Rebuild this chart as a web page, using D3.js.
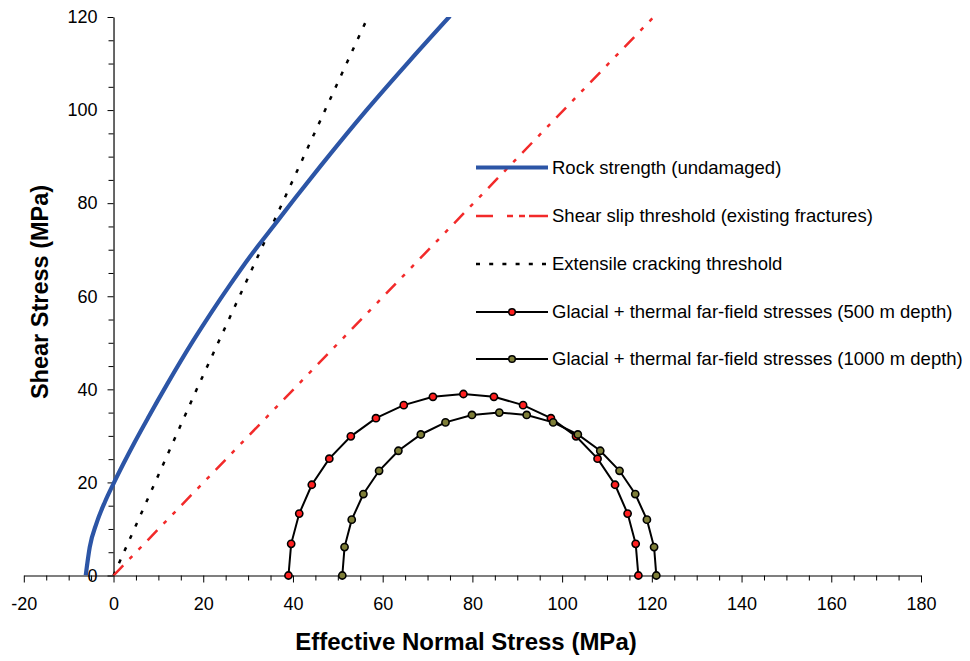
<!DOCTYPE html>
<html>
<head>
<meta charset="utf-8">
<script src="https://cdn.jsdelivr.net/npm/d3@7"></script>
<style>
  body { margin: 0; background: #fff; }
  svg { display: block; font-family: "Liberation Sans", Arial, Helvetica, sans-serif; }
</style>
</head>
<body>
<svg id="chart" width="970" height="661"></svg>
<script>
// Axis ticks
const xMajorTicks = [-20, 0, 20, 40, 60, 80, 100, 120, 140, 160, 180];
const yMajorTicks = [0, 20, 40, 60, 80, 100, 120];
const minorStep = 5;

// Rock strength envelope (undamaged rock), MPa
const rockSigma = [-6.2, -5.3, -3.8, -1.9, 0, 2.2, 4.8, 7.8, 11.9, 17.8, 21.9, 26.0, 30.4, 35.6, 40.5, 46.0, 56.4, 66.1, 75.0];
const rockTau   = [0, 6.1, 11.2, 15.85, 19.75, 24.0, 28.8, 34.05, 41.0, 50.5, 56.65, 62.5, 68.5, 75.0, 81.1, 87.8, 100.0, 110.7, 120.2];

// Shear slip threshold on existing fractures
const slipSigma = [0, 121.0];
const slipTau   = [0, 120.6];

// Extensile cracking threshold
const crackSigma = [0, 18.5, 37.1, 56.9];
const crackTau   = [0, 39.9, 78.9, 120.4];

// Mohr circle, glacial + thermal far-field stresses at 500 m depth
const c500Sigma = [39.0, 39.6, 41.4, 44.2, 48.1, 52.9, 58.5, 64.7, 71.2, 78.0, 84.8, 91.3, 97.5, 103.1, 107.9, 111.8, 114.6, 116.4, 117.0];
const c500Tau   = [0, 6.8, 13.3, 19.5, 25.1, 29.9, 33.8, 36.6, 38.4, 39.0, 38.4, 36.6, 33.8, 29.9, 25.1, 19.5, 13.3, 6.8, 0];

// Mohr circle, glacial + thermal far-field stresses at 1000 m depth
const c1000Sigma = [51.0, 51.5, 53.1, 55.7, 59.2, 63.5, 68.5, 74.0, 79.9, 86.0, 92.1, 98.0, 103.5, 108.5, 112.8, 116.3, 118.9, 120.5, 121.0];
const c1000Tau   = [0, 6.1, 12.0, 17.5, 22.5, 26.8, 30.3, 32.9, 34.5, 35.0, 34.5, 32.9, 30.3, 26.8, 22.5, 17.5, 12.0, 6.1, 0];

const legendLabels = [
  "Rock strength (undamaged)",
  "Shear slip threshold (existing fractures)",
  "Extensile cracking threshold",
  "Glacial + thermal far-field stresses (500 m depth)",
  "Glacial + thermal far-field stresses (1000 m depth)"
];

const xTitle = "Effective Normal Stress (MPa)";
const yTitle = "Shear Stress (MPa)";

const colors = {
  rock: "#2C55A6",
  slip: "#F22A2A",
  crack: "#000000",
  m500: "#FF2020",
  m1000: "#7E7E38"
};

const FONT = "'Liberation Sans', Arial, sans-serif";
const svg = d3.select("#chart");
const x = d3.scaleLinear().domain([-20, 180]).range([23.8, 921]);
const y = d3.scaleLinear().domain([0, 120]).range([575.5, 17]);

const zip = (a, b) => a.map((v, i) => [v, b[i]]);
const range = (lo, hi, step) => d3.range(lo, hi + step / 2, step);

// ---- Axes ----
const xMinor = range(-20, 180, minorStep).filter(v => !xMajorTicks.includes(v));
const yMinor = range(0, 120, minorStep).filter(v => !yMajorTicks.includes(v));
const plain = d => String(d);

function styleAxis(g) {
  g.selectAll("path.domain").attr("stroke", "#000").attr("stroke-width", 1.2);
  g.selectAll(".tick line").attr("stroke", "#000").attr("stroke-width", 1);
  g.selectAll("text").attr("font-size", 18).attr("font-family", FONT).attr("fill", "#000");
}

svg.append("g")
  .attr("transform", `translate(0,${y(0)})`)
  .call(d3.axisBottom(x).tickValues(xMinor).tickSize(5).tickSizeOuter(0).tickFormat(""))
  .call(g => g.select("path.domain").remove())
  .call(styleAxis);

svg.append("g")
  .attr("transform", `translate(0,${y(0)})`)
  .call(d3.axisBottom(x).tickValues(xMajorTicks).tickSize(7).tickSizeOuter(0).tickPadding(14.5).tickFormat(plain))
  .call(styleAxis);

svg.append("g")
  .attr("transform", `translate(${x(0)},0)`)
  .call(d3.axisLeft(y).tickValues(yMinor).tickSize(5).tickSizeOuter(0).tickFormat(""))
  .call(g => g.select("path.domain").remove())
  .call(styleAxis);

svg.append("g")
  .attr("transform", `translate(${x(0)},0)`)
  .call(d3.axisLeft(y).tickValues(yMajorTicks).tickSize(6).tickSizeOuter(0).tickPadding(10).tickFormat(plain))
  .call(styleAxis);

// ---- Axis titles ----
svg.append("text")
  .attr("x", 466).attr("y", 650)
  .attr("text-anchor", "middle")
  .attr("font-size", 24).attr("font-weight", "bold")
  .text(xTitle);

svg.append("text")
  .attr("transform", `translate(48,292) rotate(-90)`)
  .attr("text-anchor", "middle")
  .attr("font-size", 23.5).attr("font-weight", "bold")
  .text(yTitle);

// ---- Plot clip ----
svg.append("defs").append("clipPath").attr("id", "plot")
  .append("rect")
  .attr("x", x(-20)).attr("y", y(120))
  .attr("width", x(180) - x(-20)).attr("height", y(0) - y(120));

const plot = svg.append("g").attr("clip-path", "url(#plot)");
const line = d3.line().x(d => x(d[0])).y(d => y(d[1]));
const smooth = d3.line().x(d => x(d[0])).y(d => y(d[1])).curve(d3.curveMonotoneX);

plot.append("path")
  .datum(zip(crackSigma, crackTau))
  .attr("d", line)
  .attr("fill", "none").attr("stroke", colors.crack)
  .attr("stroke-width", 2.5).attr("stroke-dasharray", "4,9.4");

plot.append("path")
  .datum(zip(slipSigma, slipTau))
  .attr("d", line)
  .attr("fill", "none").attr("stroke", colors.slip)
  .attr("stroke-width", 2.5).attr("stroke-dasharray", "14,9,4,9,4,9");

plot.append("path")
  .datum(zip(rockSigma, rockTau))
  .attr("d", smooth)
  .attr("fill", "none").attr("stroke", colors.rock)
  .attr("stroke-width", 4.2);

// Mohr circles with markers
function mohr(sig, tau, fill) {
  const pts = zip(sig, tau);
  svg.append("path").datum(pts).attr("d", line)
    .attr("fill", "none").attr("stroke", "#000").attr("stroke-width", 2);
  svg.append("g").selectAll("circle").data(pts).join("circle")
    .attr("cx", d => x(d[0])).attr("cy", d => y(d[1]))
    .attr("r", 3.6).attr("fill", fill)
    .attr("stroke", "#000").attr("stroke-width", 1.6);
}
mohr(c500Sigma, c500Tau, colors.m500);
mohr(c1000Sigma, c1000Tau, colors.m1000);

// ---- Legend ----
const legendRows = [167.5, 216, 264, 312, 359];
const lx0 = 476, lx1 = 548, ltx = 552;
const legend = svg.append("g");
const entries = [
  { color: colors.rock, width: 4.2, dash: null, marker: null },
  { color: colors.slip, width: 2.5, dash: "17,14,6,6,6,4,19,50", marker: null },
  { color: colors.crack, width: 2.5, dash: "4,9.2", marker: null },
  { color: "#000", width: 2, dash: null, marker: colors.m500 },
  { color: "#000", width: 2, dash: null, marker: colors.m1000 }
];
entries.forEach((e, i) => {
  const ry = legendRows[i];
  legend.append("line")
    .attr("x1", lx0).attr("x2", lx1).attr("y1", ry).attr("y2", ry)
    .attr("stroke", e.color).attr("stroke-width", e.width)
    .attr("stroke-dasharray", e.dash);
  if (e.marker) {
    legend.append("circle")
      .attr("cx", (lx0 + lx1) / 2).attr("cy", ry).attr("r", 3.3)
      .attr("fill", e.marker).attr("stroke", "#000").attr("stroke-width", 1.5);
  }
  legend.append("text")
    .attr("x", ltx).attr("y", ry).attr("dy", "0.35em")
    .attr("font-size", 18.5).attr("fill", "#000")
    .text(legendLabels[i]);
});
</script>
</body>
</html>
